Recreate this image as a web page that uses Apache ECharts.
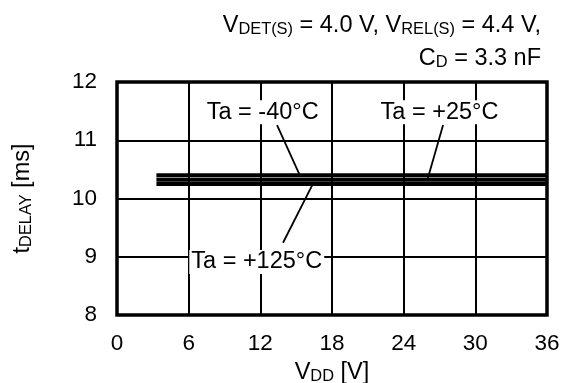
<!DOCTYPE html>
<html>
<head>
<meta charset="utf-8">
<script src="https://cdn.jsdelivr.net/npm/echarts@6/dist/echarts.min.js"></script>
<style>html,body{margin:0;padding:0;background:#fff;}#c{width:563px;height:383px;}</style>
</head>
<body>
<div id="c"></div>
<script>
// Data
const vdd = [3.3, 6, 12, 18, 24, 30, 36];
const tMinus40 = [10.40, 10.40, 10.40, 10.40, 10.40, 10.40, 10.40];
const t25 = [10.32, 10.32, 10.32, 10.32, 10.32, 10.32, 10.32];
const t125 = [10.25, 10.25, 10.25, 10.25, 10.25, 10.25, 10.25];
const xTicks = [0, 6, 12, 18, 24, 30, 36];
const yTicks = [8, 9, 10, 11, 12];
// annotation labels: [x, y, text]
const annoLabels = [
  [12.2, 11.48, 'Ta = -40°C'],
  [27.0, 11.48, 'Ta = +25°C'],
  [11.7, 8.91, 'Ta = +125°C']
];
// leader lines: [[x1,y1],[x2,y2]]
const leaders = [
  [[13.4, 11.26], [15.3, 10.40]],
  [[27.3, 11.26], [26.0, 10.33]],
  [[13.9, 9.24], [16.4, 10.25]]
];

const FONT = 'Liberation Sans, Arial, sans-serif';
const FS = 23.5;
const TFS = 22.5;
const SUB = 16.4;
const chart = echarts.init(document.getElementById('c'), null, {renderer: 'canvas'});
const mkLine = (vals) => vdd.map((x, i) => [x, vals[i]]);
const lineSeries = (name, vals) => ({
  name, type: 'line', data: mkLine(vals), symbol: 'none', silent: true,
  lineStyle: {color: '#000', width: 4}, z: 3
});
const rich = {
  v: {fontFamily: FONT, fontSize: FS, fontWeight: 'normal', color: '#000'},
  s: {fontFamily: FONT, fontSize: SUB, fontWeight: 'normal', color: '#000', verticalAlign: 'bottom', padding: [0, 0, 1, 0]}
};
chart.setOption({
  animation: false,
  backgroundColor: '#fff',
  title: [
    {text: '{v|V}{s|DET(S)}{v| = 4.0 V, V}{s|REL(S)}{v| = 4.4 V,}', right: 17, top: 9, textStyle: {fontWeight: 'normal', rich}},
    {text: '{v|C}{s|D}{v| = 3.3 nF}', right: 17, top: 42, textStyle: {fontWeight: 'normal', rich}}
  ],
  grid: {left: 117, right: 16, top: 82, bottom: 68, show: true, borderColor: '#000', borderWidth: 3.5,
         backgroundColor: 'transparent', containLabel: false, outerBoundsMode: 'none'},
  xAxis: {
    type: 'value', min: xTicks[0], max: xTicks[xTicks.length - 1], interval: 6,
    name: '{v|V}{s|DD}{v| [V]}', nameLocation: 'middle', nameGap: 46,
    nameTextStyle: {rich},
    axisLine: {show: false}, axisTick: {show: false},
    axisLabel: {fontFamily: FONT, fontSize: TFS, color: '#000', margin: 17},
    splitLine: {show: true, lineStyle: {color: '#000', width: 2}}
  },
  yAxis: {
    type: 'value', min: yTicks[0], max: yTicks[yTicks.length - 1], interval: 1,
    name: '{v|t}{s|DELAY}{v| [ms]}', nameLocation: 'middle', nameGap: 82,
    nameTextStyle: {rich},
    axisLine: {show: false}, axisTick: {show: false},
    axisLabel: {fontFamily: FONT, fontSize: TFS, color: '#000', margin: 20},
    splitLine: {show: true, lineStyle: {color: '#000', width: 2}}
  },
  series: [
    lineSeries('Ta = -40°C', tMinus40),
    lineSeries('Ta = +25°C', t25),
    lineSeries('Ta = +125°C', t125),
    {
      type: 'lines', coordinateSystem: 'cartesian2d', silent: true, z: 4,
      data: leaders.map(c => ({coords: c})),
      lineStyle: {color: '#000', width: 1.8, opacity: 1}
    },
    {
      type: 'scatter', symbolSize: 0, silent: true, z: 5,
      data: annoLabels.map(a => ({value: [a[0], a[1]], name: a[2]})),
      label: {
        show: true, position: 'inside', formatter: p => p.name,
        fontFamily: FONT, fontSize: FS, color: '#000', opacity: 1,
        textBorderWidth: 0, backgroundColor: '#fff', padding: [0, 2]
      },
      itemStyle: {color: '#000', opacity: 1}
    }
  ]
});
</script>
</body>
</html>
